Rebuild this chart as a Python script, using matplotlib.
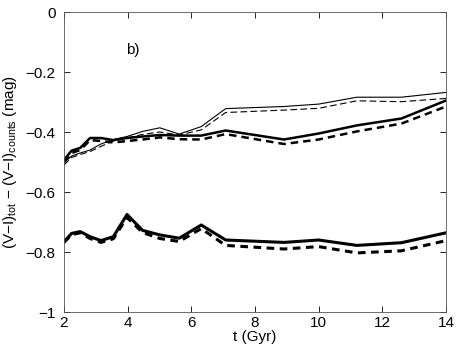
import numpy as np
import matplotlib.pyplot as plt

t = [2.0, 2.24, 2.51, 2.82, 3.16, 3.55, 3.98, 4.47, 5.01, 5.62, 6.31, 7.08, 8.91, 10.0, 11.2, 12.6, 14.0]

up_thin_solid = [-0.503, -0.480, -0.470, -0.460, -0.440, -0.425, -0.415, -0.398, -0.386, -0.407, -0.382,
                 -0.322, -0.315, -0.307, -0.284, -0.284, -0.268]
up_thin_dash = [-0.510, -0.485, -0.475, -0.465, -0.448, -0.430, -0.420, -0.408, -0.400, -0.410, -0.393,
                -0.335, -0.327, -0.321, -0.296, -0.299, -0.288]
up_thick_solid = [-0.493, -0.462, -0.453, -0.420, -0.420, -0.427, -0.420, -0.415, -0.410, -0.412, -0.412,
                  -0.395, -0.425, -0.405, -0.378, -0.355, -0.295]
up_thick_dash = [-0.500, -0.470, -0.460, -0.427, -0.430, -0.435, -0.430, -0.425, -0.418, -0.424, -0.425,
                 -0.407, -0.440, -0.425, -0.398, -0.372, -0.315]
low_solid = [-0.766, -0.738, -0.732, -0.749, -0.762, -0.749, -0.675, -0.728, -0.743, -0.754, -0.710,
             -0.760, -0.768, -0.760, -0.778, -0.769, -0.736]
low_dash = [-0.768, -0.742, -0.736, -0.755, -0.768, -0.756, -0.685, -0.735, -0.755, -0.765, -0.722,
            -0.778, -0.790, -0.782, -0.803, -0.796, -0.762]

plt.rcParams['font.family'] = ['Liberation Sans', 'DejaVu Sans']
plt.rcParams['font.size'] = 11
plt.rcParams['mathtext.fontset'] = 'custom'
plt.rcParams['mathtext.rm'] = 'Liberation Sans'
plt.rcParams['mathtext.it'] = 'Liberation Sans'

fig = plt.figure(figsize=(4.58, 3.49), dpi=100)
ax = fig.add_axes([0.1397, 0.106, 0.8341, 0.8596])

ax.plot(t, up_thin_solid, 'k-', lw=0.8)
ax.plot(t, up_thin_dash, 'k--', lw=0.8, dashes=(6, 3))
ax.plot(t, up_thick_solid, 'k-', lw=1.8)
ax.plot(t, up_thick_dash, 'k--', lw=1.8, dashes=(3, 2))
ax.plot(t, low_solid, 'k-', lw=2.2)
ax.plot(t, low_dash, 'k--', lw=2.2, dashes=(2.5, 1.8))

ax.set_xlim(2, 14)
ax.set_ylim(-1, 0)
ax.set_xticks([2, 4, 6, 8, 10, 12, 14])
ax.set_yticks([-1, -0.8, -0.6, -0.4, -0.2, 0])
ax.set_yticklabels(['\u22121', '\u22120.8', '\u22120.6', '\u22120.4', '\u22120.2', '0'])
ax.tick_params(direction='in', top=True, right=True, length=4, width=0.6)
ax.tick_params(axis='y', pad=6)
ax.tick_params(axis='x', pad=3)
for s in ax.spines.values():
    s.set_linewidth(0.6)
    s.set_color('#555555')

ax.text(3.95, -0.125, 'b)', fontsize=11, va='center')
ax.set_xlabel('t (Gyr)', labelpad=0)
ax.set_ylabel('(V\u2212I)$_{\\rm tot}$ \u2212 (V\u2212I)$_{\\rm counts}$ (mag)', labelpad=5)

plt.savefig('out.png', dpi=100)
